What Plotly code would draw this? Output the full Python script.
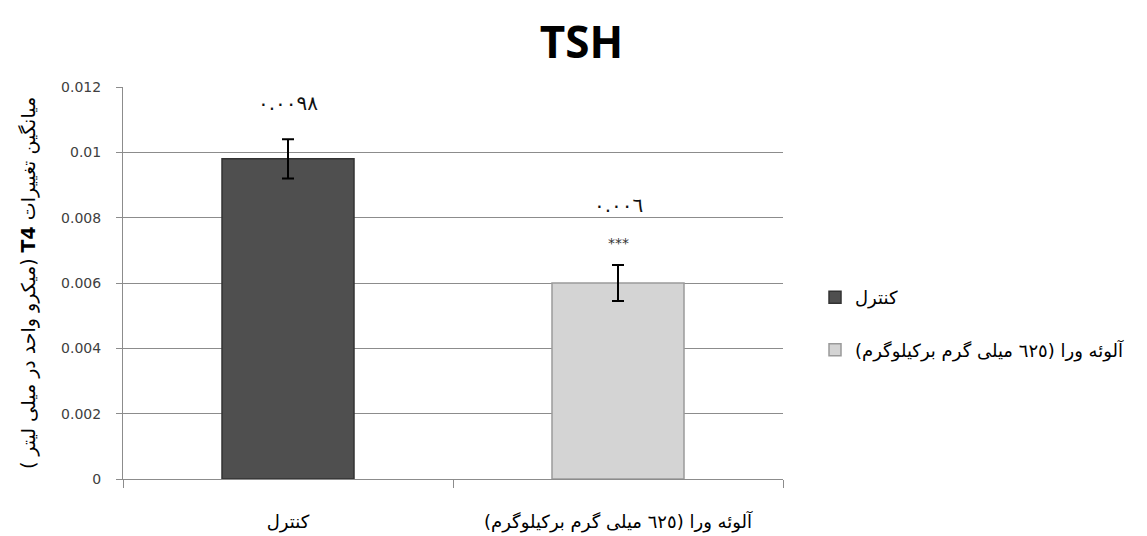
import plotly.graph_objects as go

categories = ["کنترل", "آلوئه ورا (٦٢٥ میلی گرم برکیلوگرم)"]
values = [0.0098, 0.0060]
errors = [0.0006, 0.00055]
value_labels = ["٠.٠٠٩٨", "٠.٠٠٦"]
sig_labels = ["", "***"]
bar_colors = ["#4f4f4f", "#d4d4d4"]
bar_lines = ["#333333", "#9a9a9a"]

RLE, PDF = "\u202B", "\u202C"

fig = go.Figure()
for i, cat in enumerate(categories):
    fig.add_trace(go.Bar(
        x=[cat], y=[values[i]], name=cat, width=0.4,
        marker=dict(color=bar_colors[i], line=dict(color=bar_lines[i], width=1.5)),
        error_y=dict(type="data", array=[errors[i]], color="black", thickness=2, width=6),
        legendgroup=str(i),
    ))

# value labels and significance marks
shifts = [56, 78]
for i, cat in enumerate(categories):
    fig.add_annotation(x=cat, y=values[i], text=value_labels[i], showarrow=False,
                       yshift=shifts[i], font=dict(family="DejaVu Sans", size=20, color="#111"))
    if sig_labels[i]:
        fig.add_annotation(x=cat, y=values[i], text=sig_labels[i], showarrow=False,
                           yshift=40, font=dict(family="DejaVu Sans", size=14, color="#333"))

fig.update_layout(
    width=1147, height=536,
    margin=dict(l=115, r=372, t=79, b=65),
    paper_bgcolor="white", plot_bgcolor="white",
    barmode="overlay",
    title=dict(text="<b>TSH</b>", x=0.5, xref="container", xanchor="center",
               y=0.935, yref="container", yanchor="middle",
               font=dict(family="Open Sans", size=44, color="black")),
    showlegend=True,
    legend=dict(x=1.0485, y=0.51, xanchor="left", yanchor="top",
                tracegroupgap=26, traceorder="grouped",
                font=dict(family="DejaVu Sans", size=18, color="black"),
                bgcolor="rgba(0,0,0,0)"),
    font=dict(family="DejaVu Sans"),
)

fig.update_xaxes(
    type="category", showline=True, linecolor="#8c8c8c", linewidth=1,
    ticks="outside", tickson="boundaries", ticklen=8, tickcolor="#8c8c8c",
    ticklabelstandoff=26,
    tickfont=dict(family="DejaVu Sans", size=18, color="black"),
    showgrid=False, zeroline=False,
)
fig.update_yaxes(
    range=[0, 0.012], dtick=0.002, tick0=0,
    showline=True, linecolor="#8c8c8c", linewidth=1,
    ticks="outside", ticklen=6, tickcolor="#8c8c8c",
    ticklabelstandoff=12,
    tickfont=dict(family="DejaVu Sans", size=14, color="#404040"),
    showgrid=True, gridcolor="#8c8c8c", gridwidth=1, zeroline=False,
    title=dict(text=RLE + "میانگین تغییرات <b>T4</b> (میکرو واحد در میلی لیتر )" + PDF,
               font=dict(family="DejaVu Sans", size=19, color="black"), standoff=20),
)

fig.write_html("out.html")
